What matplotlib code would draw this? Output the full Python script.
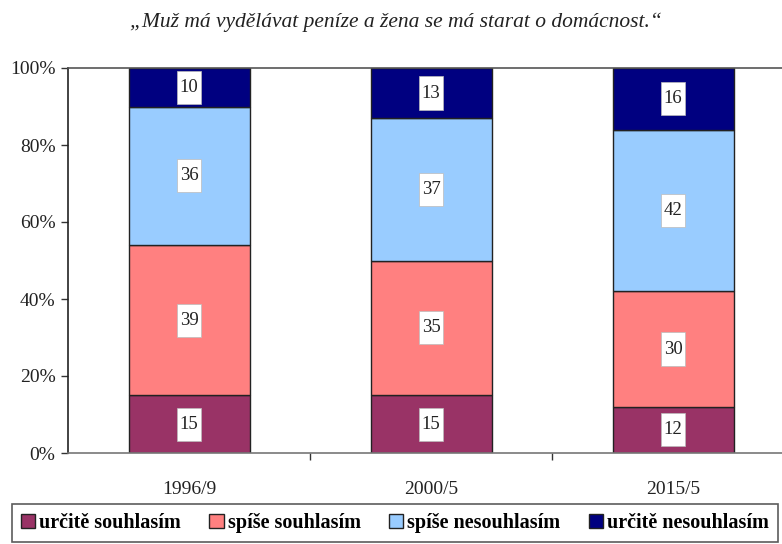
import matplotlib.pyplot as plt
from matplotlib.patches import Rectangle
import numpy as np

plt.rcParams['font.family'] = ['Liberation Serif', 'DejaVu Serif']

# Data (percentages)
years = ['1996/9', '2000/5', '2015/5']
series = ['určitě souhlasím', 'spíše souhlasím', 'spíše nesouhlasím',
          'určitě nesouhlasím']
urcite_souhlasim = [15, 15, 12]
spise_souhlasim = [39, 35, 30]
spise_nesouhlasim = [36, 37, 42]
urcite_nesouhlasim = [10, 13, 16]
colours = ['#993366', '#FF8080', '#99CCFF', '#000080']

values = [urcite_souhlasim, spise_souhlasim, spise_nesouhlasim,
          urcite_nesouhlasim]

fig = plt.figure(figsize=(7.82, 5.44), dpi=100)
ax = fig.add_axes([68/782, 1 - 453/544, 726/782, 385/544])

x = np.arange(len(years))
bottom = np.zeros(len(years))
handles = []
for vals, col, name in zip(values, colours, series):
    vals = np.array(vals, dtype=float)
    bars = ax.bar(x, vals, 0.5, bottom=bottom, color=col,
                  edgecolor='#222222', linewidth=1.0, label=name)
    handles.append(bars)
    for xi, b, v in zip(x, bottom, vals):
        # white label box, taller than wide like the original
        ax.add_patch(Rectangle((xi - 0.05, b + v / 2 - 4.3), 0.1, 8.6,
                               fc='white', ec='#bbbbbb', lw=0.5, zorder=3))
        ax.text(xi, b + v / 2, '%d' % v, ha='center', va='center',
                fontsize=13.5, color='#222222', zorder=4)
    bottom += vals

ax.set_xlim(-0.5, 2.5)
ax.set_ylim(0, 100)
ax.set_yticks(np.arange(0, 101, 20))
ax.set_yticklabels(['%d%%' % v for v in range(0, 101, 20)], fontsize=14,
                   color='#222222')
ax.set_xticks(x)
ax.set_xticklabels(years, fontsize=14, color='#222222')
ax.set_xticks([0.5, 1.5], minor=True)
ax.tick_params(axis='x', which='major', length=0, pad=20)
ax.tick_params(axis='x', which='minor', length=5, width=1, color='#333333')
ax.tick_params(axis='y', length=5, width=1, direction='out', color='#333333',
               pad=4)
ax.spines['left'].set_color('#222222')
ax.spines['bottom'].set_color('#777777')
ax.spines['top'].set_color('#555555')
ax.spines['right'].set_visible(False)
for s in ['left', 'bottom', 'top']:
    ax.spines[s].set_linewidth(1.2)

fig.text(396/782, 1 - 22/544,
         '\u201eMuž má vydělávat peníze a žena se má starat o domácnost.\u201c',
         ha='center', va='center', fontsize=15.5, style='italic',
         color='#222222')

leg = fig.legend(handles, series, loc='upper left',
                 bbox_to_anchor=(12/782, 1 - 504/544, 766/782, 0.0),
                 mode='expand', ncol=4, frameon=True, fancybox=False,
                 prop={'weight': 'bold', 'size': 14.5},
                 handlelength=0.7, handleheight=0.7, handletextpad=0.2,
                 columnspacing=0.8, borderpad=0.45, borderaxespad=0)
leg.get_frame().set_edgecolor('#333333')
leg.get_frame().set_linewidth(1.2)

fig.savefig('out.png', dpi=100)
